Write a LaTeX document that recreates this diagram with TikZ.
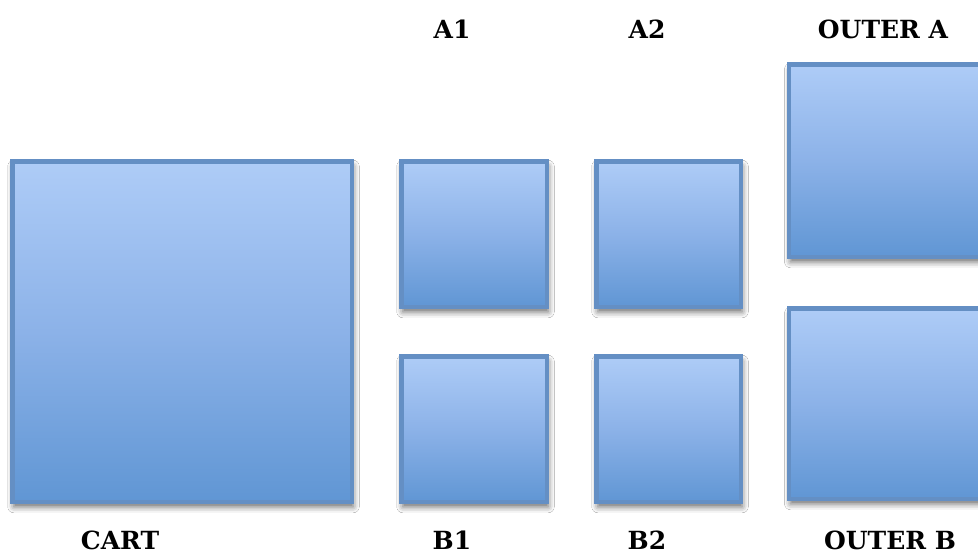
\documentclass[tikz,border=0pt]{standalone}
\usepackage{fontspec}
\setmainfont{DejaVu Serif}
\usetikzlibrary{shadows.blur}
\definecolor{boxtop}{RGB}{174,204,247}
\definecolor{boxmid}{RGB}{140,178,232}
\definecolor{boxbot}{RGB}{96,150,212}
\definecolor{boxline}{RGB}{100,143,196}
\tikzset{
  bluebox/.style={draw=boxline, line width=4.5pt, top color=boxtop, bottom color=boxbot, middle color=boxmid,
    rectangle, inner sep=0pt,
    blur shadow={shadow xshift=1.5pt, shadow yshift=-5pt, shadow blur radius=6pt, shadow opacity=60}},
  lbl/.style={font=\fontsize{25}{29}\selectfont\bfseries, anchor=base, inner sep=0pt}
}
\begin{document}
\begin{tikzpicture}[x=1pt,y=-1pt]
\useasboundingbox (0,0) rectangle (978,557);
\clip (0,0) rectangle (978,557);
\fill[white] (0,0) rectangle (978,557);
% boxes
\node[bluebox, minimum width=339.5pt, minimum height=340.5pt] (cart) at (182,331.5) {};
\node[bluebox, minimum width=145.5pt, minimum height=145.5pt] (a1) at (474,234) {};
\node[bluebox, minimum width=144.5pt, minimum height=145.5pt] (a2) at (668.5,234) {};
\node[bluebox, minimum width=145.5pt, minimum height=145.5pt] (b1) at (474,429) {};
\node[bluebox, minimum width=144.5pt, minimum height=145.5pt] (b2) at (668.5,429) {};
\node[bluebox, minimum width=240pt, minimum height=192.5pt] (oa) at (909,160.5) {};
\node[bluebox, minimum width=240pt, minimum height=190.5pt] (ob) at (909,403.5) {};
% labels
\node[lbl] (la1) at (452,38) {A1};
\node[lbl] (la2) at (647,38) {A2};
\node[lbl] (loa) at (883,38) {OUTER A};
\node[lbl] (lcart) at (120,549) {CART};
\node[lbl] (lb1) at (452,549) {B1};
\node[lbl] (lb2) at (647,549) {B2};
\node[lbl] (lob) at (890,549) {OUTER B};
\end{tikzpicture}
\end{document}
